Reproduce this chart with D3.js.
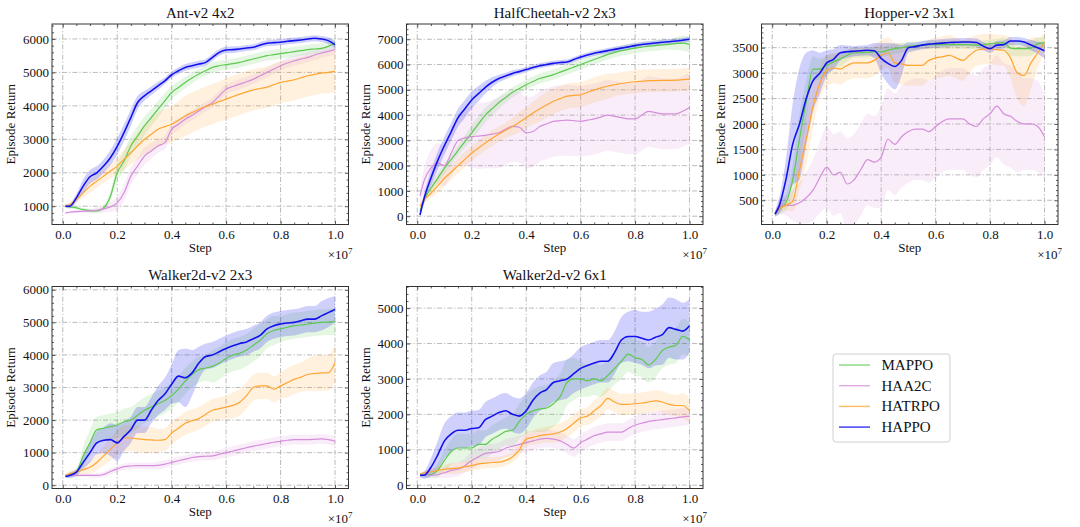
<!DOCTYPE html>
<html>
<head>
<meta charset="utf-8">
<script src="https://cdn.jsdelivr.net/npm/d3@7"></script>
<style>
  body { margin: 0; background: #fff; }
  svg text { font-family: "Liberation Serif", "Times New Roman", serif; fill: #111; }
</style>
</head>
<body>
<svg id="chart" width="1080" height="527"></svg>
<script>
// training steps (x 1e7)
var steps = [0.01,0.025,0.05,0.075,0.1,0.125,0.15,0.175,0.2,0.225,0.25,0.275,0.3,0.325,0.35,0.375,0.4,0.425,0.45,0.475,0.5,0.525,0.55,0.575,0.6,0.625,0.65,0.675,0.7,0.725,0.75,0.775,0.8,0.825,0.85,0.875,0.9,0.925,0.95,0.975,1.0];
var algos = ["MAPPO", "HAA2C", "HATRPO", "HAPPO"];
var algoColors = ["#5cc94f", "#d58ddc", "#ffa530", "#1212ee"];

// Ant-v2 4x2
var antMappo = [1000,980,950,900,870,860,950,1300,2000,2350,2800,3100,3400,3650,3900,4150,4400,4550,4700,4830,4950,5050,5150,5200,5230,5260,5300,5350,5400,5450,5500,5530,5560,5590,5620,5650,5680,5700,5720,5780,5870];
var antMappoStd = [40,50,50,50,50,50,80,150,250,300,300,300,280,260,250,230,200,180,170,160,150,150,150,150,150,150,150,150,150,150,150,150,150,150,150,150,150,150,150,150,150];
var antHaa2c = [800,820,840,850,860,880,920,980,1100,1400,1900,2200,2500,2650,2800,2900,3300,3450,3600,3720,3850,3980,4100,4300,4500,4580,4650,4720,4800,4900,5000,5100,5200,5280,5350,5400,5450,5520,5580,5630,5680];
var antHaa2cStd = [40,40,40,50,60,80,100,150,200,250,250,250,250,230,200,200,180,170,160,150,150,150,150,150,150,150,150,150,150,150,150,150,150,150,150,150,150,150,150,150,150];
var antHatrpo = [1000,1050,1200,1400,1600,1750,1900,2050,2200,2400,2600,2800,3000,3150,3300,3380,3450,3570,3700,3800,3900,3980,4050,4130,4200,4280,4350,4420,4480,4520,4560,4630,4700,4740,4780,4840,4900,4940,4980,5000,5030];
var antHatrpoStd = [50,80,100,150,200,200,200,220,250,300,350,400,450,480,500,520,550,570,600,600,600,600,600,600,620,620,620,620,620,620,620,620,620,620,620,620,620,620,620,620,620];
var antHappo = [1000,1000,1250,1600,1880,2000,2200,2450,2790,3200,3650,4100,4300,4450,4600,4750,4930,5050,5150,5200,5250,5300,5450,5600,5670,5680,5700,5730,5750,5820,5870,5890,5900,5930,5950,5970,6000,6020,6000,5950,5830];
var antHappoStd = [60,60,120,200,200,200,200,220,250,250,250,200,150,130,120,100,100,100,100,100,100,100,100,100,100,100,90,90,90,90,90,90,90,90,90,90,90,90,90,100,100];

// HalfCheetah-v2 2x3
var hcMappo = [200,650,1100,1500,1900,2250,2600,2950,3300,3650,4000,4250,4500,4700,4900,5050,5200,5330,5450,5520,5600,5700,5800,5900,6000,6100,6200,6300,6400,6480,6550,6600,6650,6690,6730,6750,6780,6800,6830,6850,6800];
var hcMappoStd = [80,150,200,200,200,200,200,250,300,300,300,280,250,220,200,200,200,200,200,200,200,200,200,200,200,200,200,200,200,200,200,200,200,200,200,200,200,200,250,300,300];
var hcHaa2c = [800,1400,1900,2100,2000,2500,3000,3100,3150,3170,3200,3250,3300,3450,3550,3520,3300,3350,3550,3650,3750,3780,3800,3780,3750,3800,3850,3920,4000,3950,3900,3850,3850,4000,4150,4100,4050,4050,4050,4150,4300];
var hcHaa2cStd = [300,500,700,800,800,900,1000,1100,1200,1300,1300,1350,1400,1400,1400,1400,1400,1400,1400,1400,1400,1400,1400,1400,1400,1400,1400,1400,1400,1400,1400,1400,1400,1400,1400,1400,1400,1400,1400,1400,1400];
var hcHatrpo = [400,650,900,1200,1500,1750,2000,2250,2500,2700,2900,3080,3250,3400,3550,3720,3900,4080,4250,4400,4550,4650,4750,4780,4800,4900,5000,5080,5150,5200,5250,5290,5320,5340,5360,5365,5370,5375,5380,5400,5420];
var hcHatrpoStd = [100,150,200,250,300,300,300,300,300,300,300,300,300,300,350,400,400,450,500,500,500,500,500,500,500,500,500,500,500,450,450,450,450,450,450,450,450,450,450,450,450];
var hcHappo = [50,700,1500,2200,2800,3350,3900,4250,4600,4850,5100,5300,5450,5550,5650,5720,5800,5880,5950,6000,6050,6080,6100,6200,6300,6380,6450,6500,6550,6600,6650,6700,6750,6790,6820,6850,6880,6900,6930,6960,7000];
var hcHappoStd = [80,200,300,350,350,350,350,350,330,300,250,200,150,130,120,100,100,100,100,100,100,100,100,100,100,100,100,100,100,100,100,100,100,100,100,100,100,100,100,100,100];

// Hopper-v2 3x1
var hopMappo = [230,320,450,900,1700,2450,3080,3080,3150,3220,3280,3350,3400,3400,3410,3420,3420,3450,3480,3500,3530,3540,3550,3555,3560,3560,3560,3560,3560,3555,3550,3560,3580,3590,3600,3490,3480,3480,3490,3580,3600];
var hopMappoStd = [50,100,150,300,500,400,250,200,200,150,150,120,100,100,100,100,100,100,100,100,80,80,80,80,80,80,80,80,80,80,80,80,80,80,100,150,150,150,150,120,100];
var hopHaa2c = [230,380,400,400,450,550,700,950,1150,1000,1050,820,900,1100,1300,1250,1350,1700,1600,1750,1850,1900,1900,1850,1950,2050,2100,2100,2100,2000,1950,2100,2200,2350,2200,2150,2050,2000,2000,1950,1750];
var hopHaa2cStd = [50,150,200,300,400,500,600,700,800,800,800,900,900,900,900,900,1000,1000,1000,1000,1000,1000,1000,1000,1000,1000,1000,1000,1000,1000,1000,1000,1000,1000,1000,1000,1000,900,900,900,800];
var hopHatrpo = [250,330,400,480,1100,1700,2350,2800,3050,3100,3080,3150,3200,3200,3200,3250,3350,3400,3200,3180,3150,3150,3150,3250,3300,3320,3350,3300,3250,3350,3450,3470,3480,3460,3450,3300,3000,2950,3200,3400,3600];
var hopHatrpoStd = [50,80,100,200,400,500,400,300,300,300,300,300,300,300,300,300,300,300,400,400,400,400,400,400,400,400,400,400,400,350,300,300,300,300,300,400,500,600,500,300,200];
var hopHappo = [230,380,900,1600,2000,2500,2850,3000,3200,3270,3400,3420,3430,3440,3450,3440,3290,3190,3130,3250,3500,3520,3550,3570,3580,3590,3600,3605,3610,3610,3600,3530,3480,3550,3560,3630,3630,3610,3550,3500,3440];
var hopHappoStd = [50,150,400,800,1100,900,600,400,250,200,150,120,100,100,100,150,300,400,450,300,100,80,80,80,80,80,80,80,80,80,80,80,80,80,80,80,80,80,100,120,150];

// Walker2d-v2 2x3
var w23Mappo = [270,320,400,900,1300,1700,1750,1800,1850,1950,2000,2150,2300,2400,2500,2600,2750,2950,3200,3400,3550,3600,3650,3750,3900,4000,4050,4150,4300,4450,4650,4750,4800,4850,4900,4920,4950,4980,5000,5010,5020];
var w23MappoStd = [50,80,100,300,400,400,400,400,400,400,400,400,400,400,400,400,400,400,400,400,400,400,500,500,500,500,500,500,500,500,450,450,400,400,400,400,400,400,400,400,400];
var w23Haa2c = [300,300,300,300,300,300,330,420,500,570,590,600,600,600,610,650,700,750,800,850,880,890,900,950,1000,1050,1100,1150,1200,1240,1280,1320,1350,1380,1400,1400,1400,1410,1420,1400,1350];
var w23Haa2cStd = [30,40,50,50,60,70,80,90,100,100,100,100,100,100,120,120,120,120,120,130,130,130,140,140,150,150,150,150,150,150,150,150,150,150,150,150,150,150,150,150,150];
var w23Hatrpo = [300,350,400,480,550,700,900,1100,1300,1450,1450,1420,1400,1390,1380,1400,1600,1750,1900,1980,2050,2180,2300,2350,2400,2450,2550,2750,3000,3050,3050,2950,3050,3150,3250,3320,3400,3430,3450,3450,3750];
var w23HatrpoStd = [50,80,100,150,200,250,300,350,400,400,400,400,400,400,350,350,350,350,350,350,350,350,350,350,350,400,400,400,400,400,400,400,400,450,450,450,500,550,550,550,550];
var w23Happo = [270,300,400,700,1000,1300,1380,1400,1300,1500,1700,2000,2000,2300,2600,2800,3100,3350,3300,3450,3750,3950,4000,4100,4200,4280,4350,4400,4500,4600,4800,4900,4950,4980,5000,5050,5100,5100,5200,5300,5400];
var w23HappoStd = [50,80,100,200,300,350,400,500,550,450,400,400,400,400,450,500,600,800,900,700,500,400,400,400,400,400,400,400,400,400,400,400,400,400,400,400,400,400,450,450,400];

// Walker2d-v2 6x1
var w61Mappo = [280,290,300,420,700,950,1050,1050,1050,1150,1150,1300,1400,1520,1550,1800,2000,2100,2150,2180,2300,2500,2900,3000,3000,2950,3000,2950,3100,3300,3500,3700,3600,3550,3400,3550,3800,3900,3950,4200,4100];
var w61MappoStd = [50,80,100,200,300,350,400,400,400,400,400,400,400,400,450,500,550,600,650,650,650,650,650,600,500,450,450,450,450,450,500,500,500,500,500,500,500,500,500,500,500];
var w61Haa2c = [280,280,280,300,350,420,450,550,700,800,900,920,950,1050,1100,1150,1200,1250,1300,1320,1300,1250,1150,1050,1200,1300,1400,1450,1500,1500,1500,1600,1700,1750,1800,1830,1850,1880,1900,1930,1950];
var w61Haa2cStd = [50,60,60,100,150,200,200,200,250,250,250,250,250,250,250,250,250,250,250,250,250,250,250,250,250,250,250,250,250,250,250,250,250,250,250,250,250,250,250,250,250];
var w61Hatrpo = [320,350,380,420,450,470,480,520,550,600,620,640,650,700,800,1000,1300,1350,1400,1430,1450,1500,1600,1750,1900,1950,2100,2250,2450,2350,2280,2280,2300,2320,2350,2380,2350,2280,2250,2250,2100];
var w61HatrpoStd = [50,60,80,100,120,150,150,150,150,150,150,150,150,150,150,180,200,200,220,220,250,250,250,250,250,250,300,300,300,300,300,300,300,300,300,300,300,300,300,350,350];
var w61Happo = [280,280,500,850,1250,1450,1550,1550,1600,1620,1850,1950,2050,2100,2000,1950,2100,2400,2600,2700,2900,2950,3000,3150,3300,3380,3450,3500,3500,3750,4100,4200,4200,4150,4100,4180,4250,4450,4400,4350,4500];
var w61HappoStd = [50,100,250,400,500,500,500,500,500,500,500,500,500,500,500,500,500,500,500,500,550,550,550,550,600,600,600,600,600,600,650,700,750,750,800,800,850,850,850,800,750];

var xTicks = [0.0, 0.2, 0.4, 0.6, 0.8, 1.0];

var panels = [
  { title: "Ant-v2 4x2", yDomain: [454, 6447], yTicks: [1000,2000,3000,4000,5000,6000],
    means: [antMappo, antHaa2c, antHatrpo, antHappo], stds: [antMappoStd, antHaa2cStd, antHatrpoStd, antHappoStd] },
  { title: "HalfCheetah-v2 2x3", yDomain: [-328, 7604], yTicks: [0,1000,2000,3000,4000,5000,6000,7000],
    means: [hcMappo, hcHaa2c, hcHatrpo, hcHappo], stds: [hcMappoStd, hcHaa2cStd, hcHatrpoStd, hcHappoStd] },
  { title: "Hopper-v2 3x1", yDomain: [24, 3965], yTicks: [500,1000,1500,2000,2500,3000,3500],
    means: [hopMappo, hopHaa2c, hopHatrpo, hopHappo], stds: [hopMappoStd, hopHaa2cStd, hopHatrpoStd, hopHappoStd] },
  { title: "Walker2d-v2 2x3", yDomain: [-101, 6102], yTicks: [0,1000,2000,3000,4000,5000,6000],
    means: [w23Mappo, w23Haa2c, w23Hatrpo, w23Happo], stds: [w23MappoStd, w23Haa2cStd, w23HatrpoStd, w23HappoStd] },
  { title: "Walker2d-v2 6x1", yDomain: [-94, 5611], yTicks: [0,1000,2000,3000,4000,5000],
    means: [w61Mappo, w61Haa2c, w61Hatrpo, w61Happo], stds: [w61MappoStd, w61Haa2cStd, w61HatrpoStd, w61HappoStd] }
];

// axes boxes in pixels
var boxes = [
  {x0: 52, x1: 348.5, y0: 24, y1: 224.5},
  {x0: 406.5, x1: 703, y0: 24, y1: 224.5},
  {x0: 761.5, x1: 1058, y0: 24, y1: 224.5},
  {x0: 52, x1: 348.5, y0: 286.5, y1: 488.5},
  {x0: 406.5, x1: 703, y0: 286.5, y1: 488.5}
];

var svg = d3.select("#chart");

function minorTicks(domain, step, majors) {
  var out = [];
  var start = Math.ceil(domain[0] / step);
  for (var k = start; k * step <= domain[1]; k++) {
    var v = +(k * step).toFixed(6);
    if (!majors.some(m => Math.abs(m - v) < 1e-6)) out.push(v);
  }
  return out;
}

function styleAxis(g) {
  g.select(".domain").remove();
  g.selectAll("line").attr("stroke", "#333").attr("stroke-width", 0.8);
  g.selectAll("text").attr("font-size", 13).attr("fill", "#111")
    .style("font-family", "'Liberation Serif', 'Times New Roman', serif");
}

function plotPanel(i, spec, box) {
  var x = d3.scaleLinear().domain([-0.0395, 1.0495]).range([box.x0, box.x1]);
  var y = d3.scaleLinear().domain(spec.yDomain).range([box.y1, box.y0]);
  var g = svg.append("g");

  g.append("clipPath").attr("id", "clip" + i)
    .append("rect").attr("x", box.x0).attr("y", box.y0)
    .attr("width", box.x1 - box.x0).attr("height", box.y1 - box.y0);

  // grid
  var grid = g.append("g").attr("stroke", "#a8a8a8").attr("stroke-width", 0.8)
    .attr("stroke-dasharray", "5,2,1.2,2");
  xTicks.forEach(function(t) {
    grid.append("line").attr("x1", x(t)).attr("x2", x(t)).attr("y1", box.y0).attr("y2", box.y1);
  });
  spec.yTicks.forEach(function(t) {
    grid.append("line").attr("x1", box.x0).attr("x2", box.x1).attr("y1", y(t)).attr("y2", y(t));
  });

  var plot = g.append("g").attr("clip-path", "url(#clip" + i + ")");

  algos.forEach(function(name, s) {
    var m = spec.means[s], sd = spec.stds[s];
    var area = d3.area()
      .x(function(d, j) { return x(steps[j]); })
      .y0(function(d, j) { return y(m[j] - sd[j]); })
      .y1(function(d, j) { return y(m[j] + sd[j]); })
      .curve(d3.curveMonotoneX);
    plot.append("path").datum(m)
      .attr("fill", algoColors[s]).attr("fill-opacity", name == "HAPPO" ? 0.2 : 0.16)
      .attr("stroke", "none").attr("d", area);
  });
  algos.forEach(function(name, s) {
    var m = spec.means[s];
    var line = d3.line()
      .x(function(d, j) { return x(steps[j]); })
      .y(function(d) { return y(d); })
      .curve(d3.curveMonotoneX);
    plot.append("path").datum(m)
      .attr("fill", "none").attr("stroke", algoColors[s])
      .attr("stroke-width", name == "HAPPO" ? 1.6 : 1.2)
      .attr("d", line);
  });

  // ticks on all four sides, pointing in
  var xMinor = minorTicks(x.domain(), 0.05, xTicks);
  var yStep = spec.yTicks[1] - spec.yTicks[0];
  var yMinor = minorTicks(y.domain(), yStep / 5, spec.yTicks);

  g.append("g").attr("transform", "translate(0," + box.y1 + ")")
    .call(d3.axisBottom(x).tickValues(xTicks).tickFormat(d3.format(".1f")).tickSize(-3.5).tickSizeOuter(0).tickPadding(5))
    .call(styleAxis);
  g.append("g").attr("transform", "translate(0," + box.y1 + ")")
    .call(d3.axisBottom(x).tickValues(xMinor).tickFormat("").tickSize(-2).tickSizeOuter(0)).call(styleAxis);
  g.append("g").attr("transform", "translate(0," + box.y0 + ")")
    .call(d3.axisTop(x).tickValues(xTicks).tickFormat("").tickSize(-3.5).tickSizeOuter(0)).call(styleAxis);
  g.append("g").attr("transform", "translate(0," + box.y0 + ")")
    .call(d3.axisTop(x).tickValues(xMinor).tickFormat("").tickSize(-2).tickSizeOuter(0)).call(styleAxis);

  g.append("g").attr("transform", "translate(" + box.x0 + ",0)")
    .call(d3.axisLeft(y).tickValues(spec.yTicks).tickFormat(d3.format("d")).tickSize(-3.5).tickSizeOuter(0).tickPadding(3))
    .call(styleAxis);
  g.append("g").attr("transform", "translate(" + box.x0 + ",0)")
    .call(d3.axisLeft(y).tickValues(yMinor).tickFormat("").tickSize(-2).tickSizeOuter(0)).call(styleAxis);
  g.append("g").attr("transform", "translate(" + box.x1 + ",0)")
    .call(d3.axisRight(y).tickValues(spec.yTicks).tickFormat("").tickSize(-3.5).tickSizeOuter(0)).call(styleAxis);
  g.append("g").attr("transform", "translate(" + box.x1 + ",0)")
    .call(d3.axisRight(y).tickValues(yMinor).tickFormat("").tickSize(-2).tickSizeOuter(0)).call(styleAxis);

  // frame
  g.append("rect").attr("x", box.x0).attr("y", box.y0)
    .attr("width", box.x1 - box.x0).attr("height", box.y1 - box.y0)
    .attr("fill", "none").attr("stroke", "#333").attr("stroke-width", 1);

  var cx = (box.x0 + box.x1) / 2;
  g.append("text").attr("x", cx).attr("y", box.y0 - 6.5)
    .attr("text-anchor", "middle").attr("font-size", 15).text(spec.title);
  g.append("text").attr("x", cx).attr("y", box.y1 + 27)
    .attr("text-anchor", "middle").attr("font-size", 13).text("Step");
  g.append("text")
    .attr("transform", "translate(" + (box.x0 - 37) + "," + ((box.y0 + box.y1) / 2) + ") rotate(-90)")
    .attr("text-anchor", "middle").attr("font-size", 13).text("Episode Return");
  var off = g.append("text").attr("x", box.x1 + 4).attr("y", box.y1 + 34)
    .attr("text-anchor", "end").attr("font-size", 13);
  off.append("tspan").text("\u00d710");
  off.append("tspan").attr("font-size", 9).attr("dy", -5).text("7");
}

panels.forEach(function(spec, i) { plotPanel(i, spec, boxes[i]); });

// legend
var legend = svg.append("g").attr("transform", "translate(833,354)");
legend.append("rect").attr("width", 117).attr("height", 88).attr("rx", 3)
  .attr("fill", "#fff").attr("stroke", "#d0d0d0").attr("stroke-width", 1);
algos.forEach(function(name, s) {
  var ly = 11 + s * 20.7;
  legend.append("line").attr("x1", 6).attr("x2", 37).attr("y1", ly).attr("y2", ly)
    .attr("stroke", algoColors[s]).attr("stroke-opacity", 0.75).attr("stroke-width", name == "HAPPO" ? 1.6 : 1.4);
  legend.append("text").attr("x", 48.5).attr("y", ly + 5).attr("font-size", 15).text(name);
});
</script>
</body>
</html>
